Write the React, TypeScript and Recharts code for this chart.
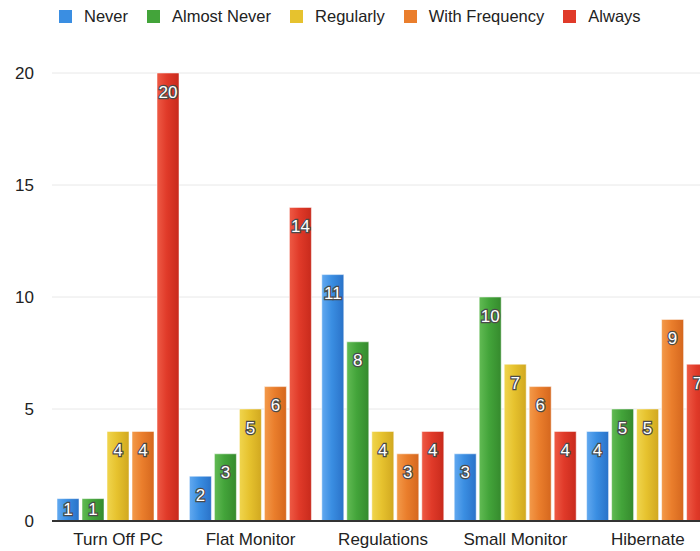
import { BarChart, Bar, XAxis, YAxis, CartesianGrid, Legend, LabelList } from "recharts";

const categories = ["Turn Off PC", "Flat Monitor", "Regulations", "Small Monitor", "Hibernate"];
const never = [1, 2, 11, 3, 4];
const almostNever = [1, 3, 8, 10, 5];
const regularly = [4, 5, 4, 7, 5];
const withFrequency = [4, 6, 3, 6, 9];
const always = [20, 14, 4, 4, 7];
const yTicks = [0, 5, 10, 15, 20];

const series = [
    { key: "never", name: "Never", values: never, color: "#3a8ee2", light: "#62a9f0", dark: "#2a72c8" },
    { key: "almostNever", name: "Almost Never", values: almostNever, color: "#43a43a", light: "#62bb54", dark: "#358a2d" },
    { key: "regularly", name: "Regularly", values: regularly, color: "#e6c22e", light: "#f0d54e", dark: "#d1a820" },
    { key: "withFrequency", name: "With Frequency", values: withFrequency, color: "#ea7e2c", light: "#f39a4a", dark: "#d5671e" },
    { key: "always", name: "Always", values: always, color: "#e03a29", light: "#ee5a45", dark: "#c82a1c" },
];

const data = categories.map((c, i) => {
    const row: Record<string, string | number> = { name: c };
    series.forEach((s) => (row[s.key] = s.values[i]));
    return row;
});

const FONT = "'Liberation Sans', Arial, Helvetica, sans-serif";

const BarValue = (props: any) => {
    const { x, y, width, height, value } = props;
    // small bars get their number centred, taller ones near the top
    const dy = Math.min(19, Math.abs(height) / 2);
    return (
        <text
            x={x + width / 2}
            y={y + dy}
            textAnchor="middle"
            dominantBaseline="central"
            fill="#fff"
            stroke="#4a4a4a"
            strokeWidth={2.5}
            paintOrder="stroke"
            fontSize={17}
            fontFamily={FONT}
        >
            {value}
        </text>
    );
};

const LegendRow = () => (
    <div style={{ display: "flex", alignItems: "center", fontFamily: FONT, fontSize: 16.5, color: "#222" }}>
        {series.map((s) => (
            <div key={s.key} style={{ display: "flex", alignItems: "center", marginRight: 19 }}>
                <span style={{ display: "inline-block", width: 13, height: 13, background: s.color, marginRight: 12 }} />
                <span>{s.name}</span>
            </div>
        ))}
    </div>
);

export default function App() {
    return (
        <div style={{ position: "fixed", left: 0, top: 0, width: 700, height: 551, overflow: "hidden", background: "#fff" }}>
            <BarChart
                width={720}
                height={551}
                data={data}
                margin={{ top: 73, right: 6, left: 0, bottom: 5 }}
                barCategoryGap={5}
                barGap={3}
            >
                <defs>
                    {series.map((s) => (
                        <linearGradient key={s.key} id={`g-${s.key}`} x1="0" y1="0" x2="1" y2="0">
                            <stop offset="0%" stopColor={s.light} />
                            <stop offset="45%" stopColor={s.color} />
                            <stop offset="100%" stopColor={s.dark} />
                        </linearGradient>
                    ))}
                </defs>
                <CartesianGrid vertical={false} stroke="#e8e8e8" />
                <XAxis
                    dataKey="name"
                    height={25}
                    tickLine={false}
                    axisLine={{ stroke: "#333", strokeWidth: 2 }}
                    tick={{ fill: "#222", fontSize: 17, fontFamily: FONT }}
                    tickMargin={6}
                    interval={0}
                />
                <YAxis
                    width={52}
                    domain={[0, 20]}
                    ticks={yTicks}
                    axisLine={false}
                    tickLine={false}
                    tickMargin={12}
                    tick={{ fill: "#222", fontSize: 17, fontFamily: FONT }}
                />
                <Legend
                    layout="horizontal"
                    verticalAlign="middle"
                    align="center"
                    wrapperStyle={{ top: 7, left: 59, width: "auto" }}
                    content={() => <LegendRow />}
                />
                {series.map((s) => (
                    <Bar
                        key={s.key}
                        dataKey={s.key}
                        name={s.name}
                        fill={`url(#g-${s.key})`}
                        stroke="rgba(255,255,255,0.5)"
                        strokeWidth={1}
                        isAnimationActive={false}
                    >
                        <LabelList dataKey={s.key} content={BarValue} />
                    </Bar>
                ))}
            </BarChart>
        </div>
    );
}
